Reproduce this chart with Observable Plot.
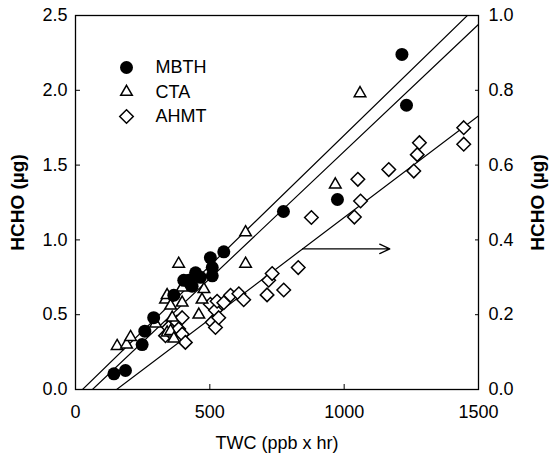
<!DOCTYPE html>
<html><head><meta charset="utf-8">
<script src="https://cdn.jsdelivr.net/npm/d3@7"></script>
<script src="https://cdn.jsdelivr.net/npm/@observablehq/plot@0.6"></script>
<style>body{margin:0;background:#fff;}</style>
</head><body><div id="chart"></div>
<script>
// ---- data ----
const mbthX = [143,186,248,258,291,366,403,422,434,447,465,502,509,509,552,774,975,1215,1232];
const mbthY = [0.105,0.127,0.30,0.39,0.48,0.63,0.73,0.73,0.69,0.78,0.75,0.88,0.815,0.76,0.92,1.19,1.27,2.24,1.90];

const ctaX = [155,190,205,298,335,341,354,341,354,360,366,384,397,397,459,471,478,633,633,967,1059];
const ctaY = [0.29,0.30,0.35,0.44,0.60,0.63,0.56,0.38,0.39,0.48,0.34,0.84,0.68,0.58,0.50,0.60,0.67,0.84,1.05,1.37,1.98];

// AHMT values are on the right axis (HCHO, 0-1.0)
const ahmtX = [335,347,360,378,384,397,397,409,502,509,521,521,527,533,552,577,608,626,713,719,732,775,829,878,1038,1051,1061,1166,1259,1272,1280,1445,1445];
const ahmtY = [0.144,0.166,0.148,0.18,0.162,0.192,0.148,0.126,0.228,0.18,0.166,0.212,0.236,0.192,0.232,0.252,0.256,0.24,0.253,0.292,0.31,0.266,0.326,0.46,0.461,0.562,0.504,0.588,0.584,0.628,0.66,0.70,0.656];

// linear fits (slope per ppb x hr, intercept) in each series' own axis units
const fitNames = ["CTA","MBTH","AHMT"];
const fitSlopes = [0.001745, 0.001698, 0.000543];
const fitIntercepts = [-0.0454, -0.107, -0.0831];
const fitAxis = ["left","left","right"];

const legendNames = ["MBTH","CTA","AHMT"];
const xTicks = [0,500,1000,1500];
const yTicksLeft = [0,0.5,1.0,1.5,2.0,2.5];
const yTicksRight = [0,0.2,0.4,0.6,0.8,1.0];
const arrowData = [{x1: 845, x2: 1170, y: 0.376}]; // right-axis units

// ---- helpers ----
const rightToLeft = 2.5 / 1.0; // right axis 1.0 == left axis 2.5
const diamond = {draw(ctx, size){const a = Math.sqrt(size/2); ctx.moveTo(0,-a); ctx.lineTo(a,0); ctx.lineTo(0,a); ctx.lineTo(-a,0); ctx.closePath();}};
const symbols = {MBTH: "circle", CTA: "triangle", AHMT: diamond};
const radius = {MBTH: 6.5, CTA: 4.3, AHMT: 5.4};

const mbth = mbthX.map((x,i)=>({x, y: mbthY[i]}));
const cta = ctaX.map((x,i)=>({x, y: ctaY[i]}));
const ahmt = ahmtX.map((x,i)=>({x, y: ahmtY[i] * rightToLeft}));

const fitLines = [];
fitNames.forEach((n,i)=>{
  const k = fitAxis[i] === "right" ? rightToLeft : 1;
  [0,1500].forEach(x => fitLines.push({name: n, x, y: (fitSlopes[i]*x + fitIntercepts[i]) * k}));
});

const font = "'Liberation Sans', Arial, Helvetica, sans-serif";
const legendStep = 24.5;

const plot = Plot.plot({
  width: 550, height: 463,
  marginLeft: 75, marginRight: 72, marginTop: 15, marginBottom: 74,
  style: {fontFamily: font, fontSize: "18px", background: "#fff", color: "#000"},
  x: {domain: [0,1500]},
  y: {domain: [0,2.5]},
  marks: [
    Plot.line(fitLines, {x: "x", y: "y", z: "name", stroke: "black", strokeWidth: 1.2, clip: true}),
    Plot.arrow(arrowData, {x1: "x1", x2: "x2", y1: d => d.y*rightToLeft, y2: d => d.y*rightToLeft, stroke: "black", strokeWidth: 1.2, headLength: 14, headAngle: 50}),
    Plot.dot(ahmt, {x: "x", y: "y", symbol: () => diamond, r: radius.AHMT, stroke: "black", strokeWidth: 1.5, fill: "white"}),
    Plot.dot(cta, {x: "x", y: "y", symbol: "triangle", r: radius.CTA, stroke: "black", strokeWidth: 1.5, fill: "white"}),
    Plot.dot(mbth, {x: "x", y: "y", symbol: "circle", r: radius.MBTH, fill: "black", stroke: "none"}),
    Plot.frame({stroke: "black", strokeWidth: 1.3}),
    Plot.axisX({ticks: xTicks, tickSize: -5, tickPadding: 21, label: null, tickFormat: d => String(d), fontSize: 18}),
    Plot.axisY({anchor: "left", ticks: yTicksLeft, tickSize: -5, tickPadding: 13, label: null, tickFormat: d => d.toFixed(1), fontSize: 18}),
    Plot.axisY({anchor: "right", ticks: yTicksRight.map(v => v*rightToLeft), tickSize: -4, tickPadding: 14, label: null, tickFormat: d => (d/rightToLeft).toFixed(1), fontSize: 18}),
    Plot.text(["TWC (ppb x hr)"], {frameAnchor: "bottom", dy: 59, text: d => d, fontSize: 18}),
    Plot.text(["HCHO (µg)"], {frameAnchor: "left", textAnchor: "middle", dx: -58, rotate: -90, text: d => d, fontSize: 19, fontWeight: "bold"}),
    Plot.text(["HCHO (µg)"], {frameAnchor: "right", textAnchor: "middle", dx: 59, rotate: -90, text: d => d, fontSize: 19, fontWeight: "bold"}),
    ...legendNames.map((n,i) => Plot.dot([n], {frameAnchor: "top-left", dx: 51, dy: 52 + i*legendStep, symbol: () => symbols[n], r: radius[n],
      fill: n === "MBTH" ? "black" : "white", stroke: n === "MBTH" ? "none" : "black", strokeWidth: 1.5})),
    ...legendNames.map((n,i) => Plot.text([n], {frameAnchor: "top-left", dx: 80, dy: 52 + i*legendStep, lineAnchor: "middle", text: d => d, textAnchor: "start", fontSize: 18}))
  ]
});
document.getElementById("chart").appendChild(plot);
</script></body></html>
